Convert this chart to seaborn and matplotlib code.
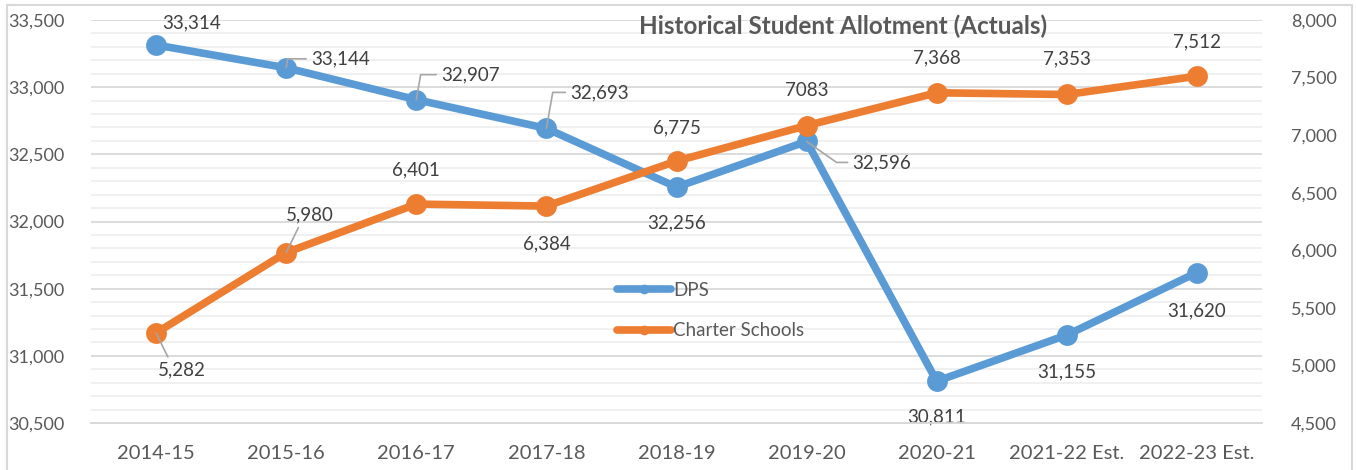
import numpy as np
import pandas as pd
import matplotlib
matplotlib.use("Agg")
import matplotlib.pyplot as plt
from matplotlib.lines import Line2D
from matplotlib.patches import Rectangle
from matplotlib.ticker import MultipleLocator, StrMethodFormatter
import seaborn as sns

# data
years = ["2014-15", "2015-16", "2016-17", "2017-18", "2018-19",
         "2019-20", "2020-21", "2021-22 Est.", "2022-23 Est."]
dps = [33314, 33144, 32907, 32693, 32256, 32596, 30811, 31155, 31620]
charter = [5282, 5980, 6401, 6384, 6775, 7083, 7368, 7353, 7512]
charter_text = ["5,282", "5,980", "6,401", "6,384", "6,775", "7083", "7,368", "7,353", "7,512"]

df = pd.DataFrame({"year": years, "x": np.arange(len(years)), "DPS": dps, "Charter": charter})

sns.set_style("white")
plt.rcParams["font.family"] = ["Lato", "DejaVu Sans"]

BLUE = "#5B9BD5"
ORANGE = "#ED7D31"
TXT = "#595959"
LBL = "#404040"

fig = plt.figure(figsize=(13.56, 4.70), dpi=100)
ax = fig.add_axes([91 / 1356, 1 - 423 / 470, (1262 - 91) / 1356, (423 - 20) / 470])
ax2 = ax.twinx()

sns.lineplot(data=df, x="x", y="DPS", ax=ax, color=BLUE, linewidth=5.5,
             marker="o", markersize=15, markeredgewidth=0, zorder=3)
sns.lineplot(data=df, x="x", y="Charter", ax=ax2, color=ORANGE, linewidth=5.5,
             marker="o", markersize=15, markeredgewidth=0, zorder=3)

ax.set_xlim(-0.5, len(years) - 0.5)
ax.set_ylim(30500, 33500)
ax2.set_ylim(4500, 8000)

ax.yaxis.set_major_locator(MultipleLocator(500))
ax.yaxis.set_minor_locator(MultipleLocator(100))
ax2.yaxis.set_major_locator(MultipleLocator(500))
ax.yaxis.set_major_formatter(StrMethodFormatter("{x:,.0f}"))
ax2.yaxis.set_major_formatter(StrMethodFormatter("{x:,.0f}"))

ax.grid(which="major", axis="y", color="#D9D9D9", linewidth=1.3)
ax.grid(which="minor", axis="y", color="#EFEFEF", linewidth=1.3)
ax.set_axisbelow(True)

# category ticks at the boundaries, labels centred
ax.set_xticks(np.arange(len(years) + 1) - 0.5)
ax.set_xticklabels([])
ax.set_xticks(np.arange(len(years)), minor=True)
ax.set_xticklabels(years, minor=True)
ax.tick_params(axis="x", which="major", length=6, color="#D9D9D9", width=1.3)
ax.tick_params(axis="x", which="minor", length=0, pad=16, labelsize=14.5, labelcolor=TXT)
ax.tick_params(axis="y", which="both", length=0, pad=19, labelsize=13, labelcolor=TXT)
ax2.tick_params(axis="y", length=0, pad=21, labelsize=13, labelcolor=TXT)

for a in (ax, ax2):
    for s in ("left", "right", "top"):
        a.spines[s].set_visible(False)
    a.spines["bottom"].set_color("#D9D9D9")
    a.spines["bottom"].set_linewidth(1.3)
    a.set_xlabel("")
    a.set_ylabel("")

lead = dict(arrowstyle="-", color="#A6A6A6", lw=1.2, shrinkA=1, shrinkB=0)

# DPS labels: (offset px, leader style)
dps_off = [(36, 22), (54, 9), (54, 25), (53, 36), (0, -36), (75, -21), (0, -36), (0, -37), (0, -38)]
dps_lead = [None, "angle,angleA=0,angleB=80,rad=0", "angle,angleA=0,angleB=80,rad=0",
            "angle,angleA=0,angleB=80,rad=0", None, "angle,angleA=0,angleB=-35,rad=0", None, None, None]
for i, v in enumerate(dps):
    kw = {}
    if dps_lead[i]:
        kw["arrowprops"] = dict(lead, connectionstyle=dps_lead[i], relpos=(0, 0.5))
    ax.annotate(f"{v:,}", xy=(i, v), xytext=dps_off[i], textcoords="offset pixels",
                ha="center", va="center", fontsize=13.5, color=LBL, zorder=5, **kw)

ch_off = [(26, -37), (24, 38), (0, 34), (0, -38), (0, 33), (0, 35), (0, 35), (0, 36), (0, 34)]
for i, v in enumerate(charter):
    kw = {}
    if i == 0:
        kw["arrowprops"] = dict(lead, relpos=(0.25, 1.0))
    elif i == 1:
        kw["arrowprops"] = dict(lead, relpos=(0.3, 0.0))
    ax2.annotate(charter_text[i], xy=(i, v), xytext=ch_off[i], textcoords="offset pixels",
                 ha="center", va="center", fontsize=13.5, color=LBL, zorder=5, **kw)

ax2.text((843 - 91) / 1171, 1 - (26 - 20) / 403,
         "Historical Student Allotment (Actuals)", transform=ax2.transAxes,
         ha="center", va="center", fontsize=17.5, fontweight="bold", color=TXT)

handles = [Line2D([], [], color=BLUE, lw=5.5, marker="o", markersize=6),
           Line2D([], [], color=ORANGE, lw=5.5, marker="o", markersize=6)]
leg = ax2.legend(handles, ["DPS", "Charter Schools"], loc="upper left",
                 bbox_to_anchor=((617 - 91) / 1171, 1 - (282 - 20) / 403),
                 frameon=False, fontsize=13.5, handlelength=2.9, handletextpad=0.1,
                 labelspacing=1.25, borderpad=0, borderaxespad=0, labelcolor=TXT)

fig.add_artist(Rectangle((7 / 1356, -0.05), (1352 - 7) / 1356, 1.05 - 5 / 470,
                         transform=fig.transFigure, fill=False, ec="#D9D9D9", lw=1.5))

fig.savefig("out.png", dpi=100)
